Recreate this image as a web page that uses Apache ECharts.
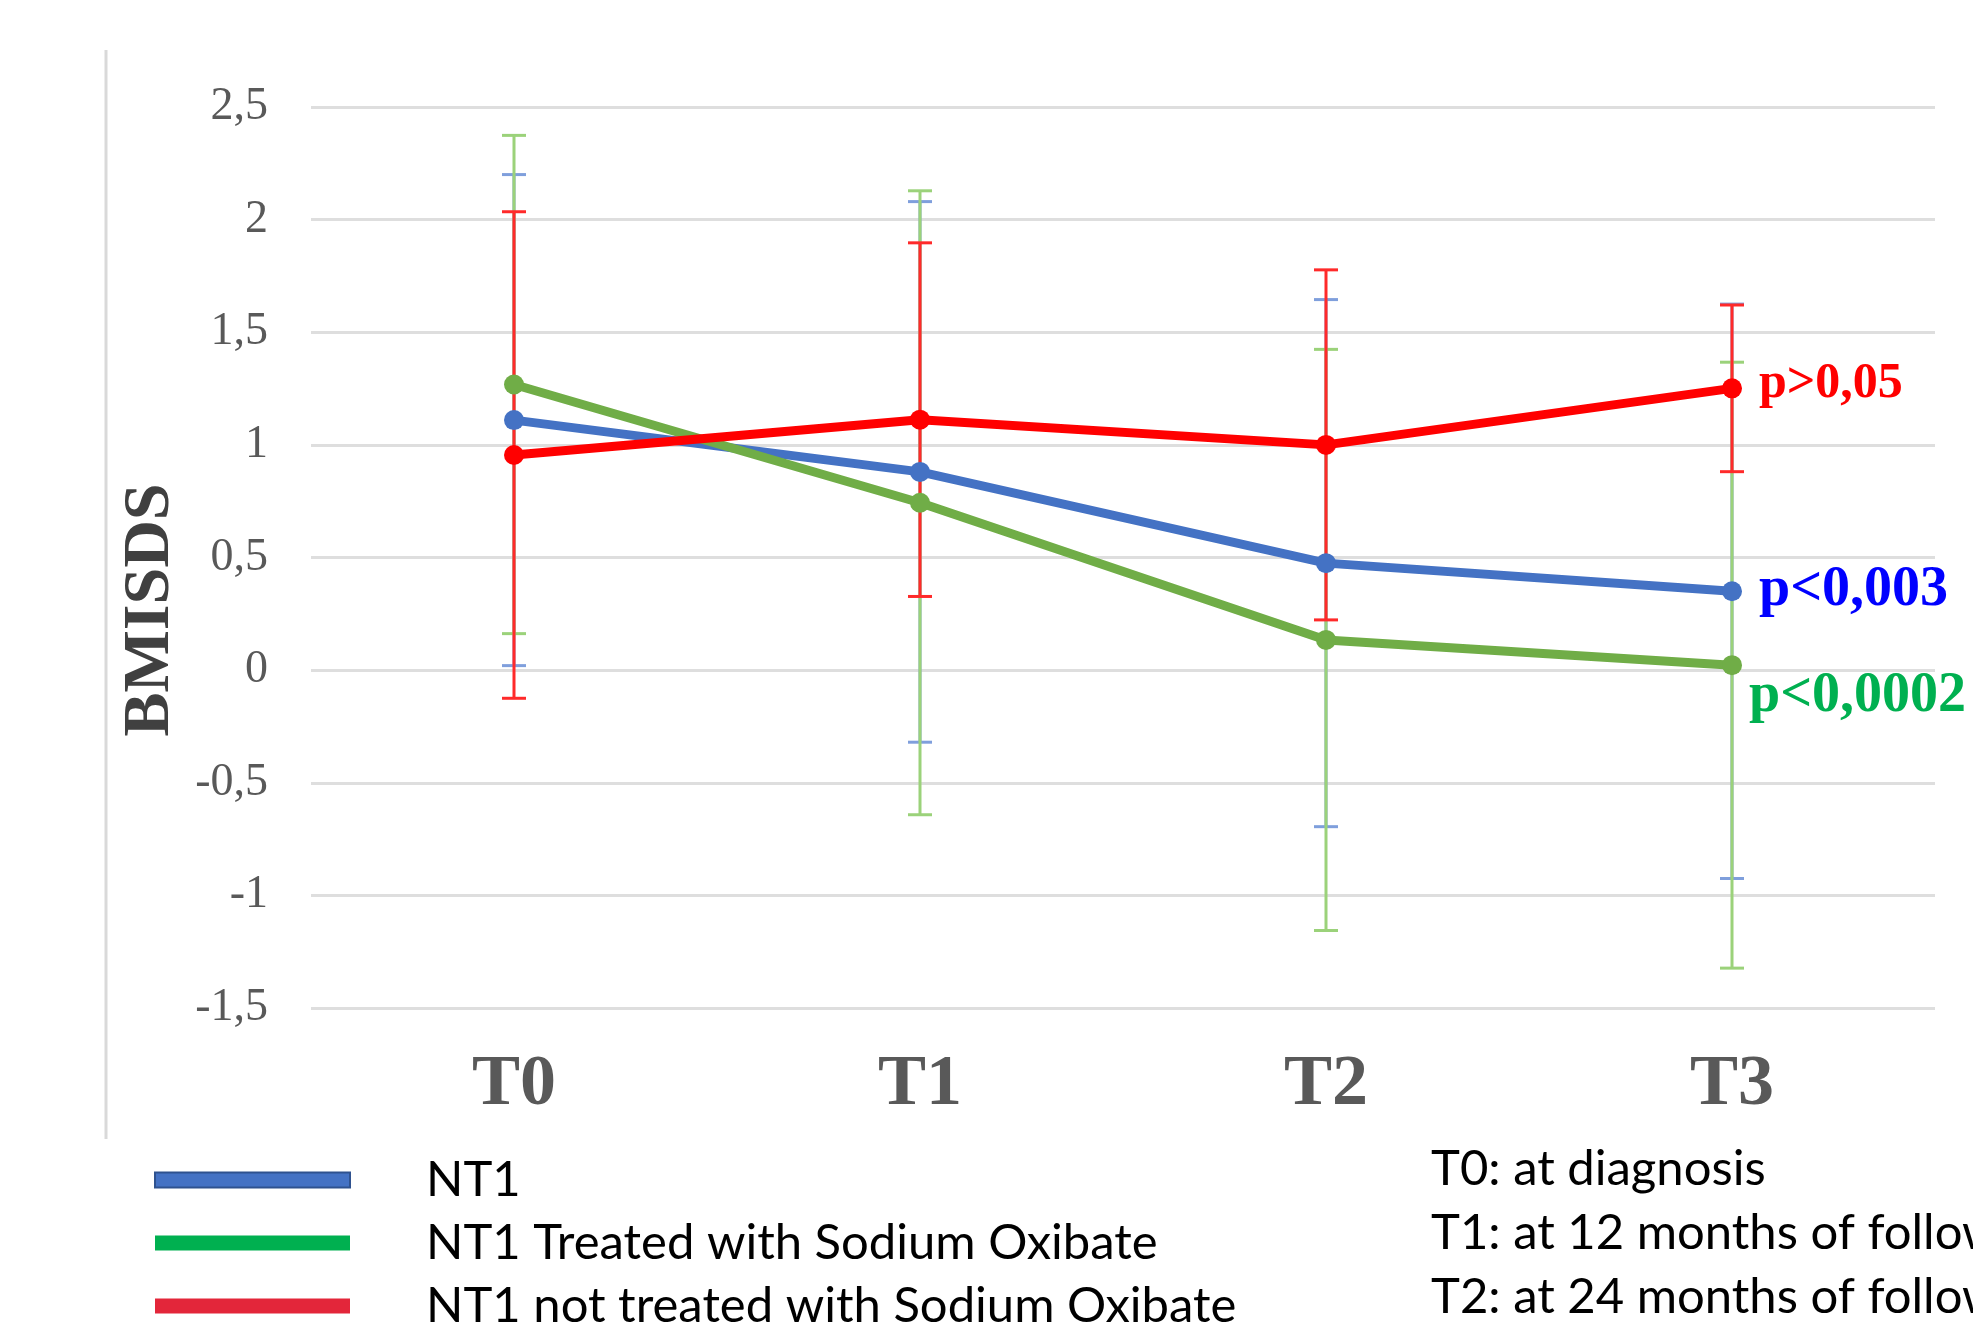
<!DOCTYPE html>
<html>
<head>
<meta charset="utf-8">
<script src="https://cdn.jsdelivr.net/npm/echarts@6/dist/echarts.min.js"></script>
<style>
  html, body { margin: 0; padding: 0; background: #fff; }
  .chart { width: 1973px; height: 1327px; }
</style>
</head>
<body>
<div class="chart"></div>
<script>
// data (BMI SDS, mean +/- sd)
const categories = ["T0", "T1", "T2", "T3"];
const nt1Mean = [1.11, 0.88, 0.475, 0.35];
const nt1Sd = [1.09, 1.2, 1.17, 1.275];
const treatedMean = [1.268, 0.743, 0.134, 0.022];
const treatedSd = [1.106, 1.385, 1.29, 1.345];
const untreatedMean = [0.955, 1.112, 1.0, 1.251];
const untreatedSd = [1.08, 0.785, 0.777, 0.37];
const pLabels = ["p<0,003", "p<0,0002", "p>0,05"];
const seriesNames = [
  "NT1",
  "NT1 Treated with Sodium Oxibate",
  "NT1 not treated with Sodium Oxibate",
];
const notes = [
  "T0: at diagnosis",
  "T1: at 12 months of follow-up",
  "T2: at 24 months of follow-up",
];

function errData(mean, sd) {
  return mean.map(function (m, i) {
    return [i, m - sd[i], m + sd[i]];
  });
}

//误差线
function errorBar(color) {
  return function (params, api) {
    let x = api.value(0);
    let lo = api.coord([x, api.value(1)]);
    let hi = api.coord([x, api.value(2)]);
    let half = 12;
    let style = { stroke: color, lineWidth: 3 };
    return {
      type: "group",
      children: [
        { type: "line", shape: { x1: hi[0], y1: hi[1], x2: lo[0], y2: lo[1] }, style: style },
        { type: "line", shape: { x1: hi[0] - half, y1: hi[1], x2: hi[0] + half, y2: hi[1] }, style: style },
        { type: "line", shape: { x1: lo[0] - half, y1: lo[1], x2: lo[0] + half, y2: lo[1] }, style: style },
      ],
    };
  };
}

function lineSeries(name, data, color, label, labelColor, size, offset) {
  return {
    name: name,
    type: "line",
    z: 3,
    data: data,
    symbol: "circle",
    symbolSize: 20,
    itemStyle: { color: color },
    lineStyle: { color: color, width: 9 },
    endLabel: {
      show: true,
      formatter: label,
      color: labelColor,
      fontFamily: "Liberation Serif",
      fontWeight: "bold",
      fontSize: size,
      distance: 27,
      offset: offset,
    },
  };
}

let myChart = echarts.init(document.querySelector(".chart"));
let option = {
  backgroundColor: "#fff",
  animation: false,
  grid: { left: 311, right: 38, top: 107, bottom: 319 },
  xAxis: {
    type: "category",
    data: categories,
    axisLine: { show: false },
    axisTick: { show: false },
    axisLabel: {
      margin: 77,
      verticalAlign: "middle",
      fontFamily: "Liberation Serif",
      fontWeight: "bold",
      fontSize: 72,
      color: "#595959",
    },
  },
  yAxis: {
    type: "value",
    min: -1.5,
    max: 2.5,
    interval: 0.5,
    axisLine: { show: false },
    axisTick: { show: false },
    splitLine: { lineStyle: { color: "#DEDEDE", width: 3 } },
    axisLabel: {
      margin: 43,
      fontFamily: "Liberation Serif",
      fontSize: 46,
      color: "#595959",
      formatter: function (v) {
        return String(v).replace(".", ",");
      },
    },
  },
  legend: {
    orient: "vertical",
    left: 149,
    top: 1150,
    height: 300,
    itemWidth: 195,
    itemHeight: 15,
    itemGap: 13,
    icon: "rect",
    textStyle: {
      fontFamily: "Lato",
      fontSize: 49,
      lineHeight: 50,
      color: "#000",
      padding: [0, 0, 0, 71],
    },
    data: [
      { name: seriesNames[0], itemStyle: { color: "#4472C4", borderColor: "#2F528F", borderWidth: 2 } },
      { name: seriesNames[1], itemStyle: { color: "#00B050" } },
      { name: seriesNames[2], itemStyle: { color: "#E3263A" } },
    ],
  },
  graphic: [
    {
      type: "line",
      shape: { x1: 106, y1: 50, x2: 106, y2: 1139 },
      style: { stroke: "#D9D9D9", lineWidth: 3 },
    },
    {
      type: "text",
      x: 151,
      y: 610,
      rotation: Math.PI / 2,
      style: {
        text: "BMISDS",
        font: "bold 66px 'Liberation Serif'",
        fill: "#404040",
        align: "center",
        verticalAlign: "middle",
      },
    },
  ].concat(
    notes.map(function (t, i) {
      return {
        type: "text",
        x: 1431,
        y: 1169 + i * 64,
        style: { text: t, font: "49px Lato", fill: "#000", verticalAlign: "middle" },
      };
    })
  ),
  series: [
    { type: "custom", z: 1, renderItem: errorBar("#7F9FDC"), data: errData(nt1Mean, nt1Sd) },
    { type: "custom", z: 1, renderItem: errorBar("#9BD27A"), data: errData(treatedMean, treatedSd) },
    { type: "custom", z: 1, renderItem: errorBar("#FF2A2A"), data: errData(untreatedMean, untreatedSd) },
    lineSeries(seriesNames[0], nt1Mean, "#4472C4", pLabels[0], "#0000FF", 56, [0, -1]),
    lineSeries(seriesNames[1], treatedMean, "#70AD47", pLabels[1], "#00B050", 56, [-10, 31]),
    lineSeries(seriesNames[2], untreatedMean, "#FF0000", pLabels[2], "#FF0000", 50, [0, -4]),
  ],
};
myChart.setOption(option);
</script>
</body>
</html>
